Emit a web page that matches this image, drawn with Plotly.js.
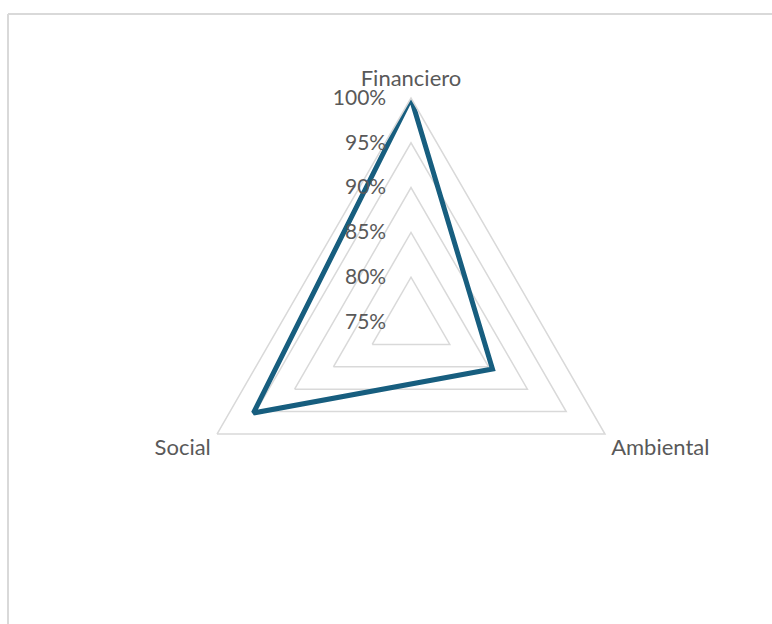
<!DOCTYPE html>
<html>
<head>
<meta charset="utf-8">
<script src="https://cdn.plot.ly/plotly-3.0.1.min.js"></script>
<style>
html, body { margin: 0; padding: 0; background: #ffffff; }
#chart { width: 772px; height: 624px; }
</style>
</head>
<body>
<div id="chart"></div>
<script>
// Data
const categories = ["Financiero", "Ambiental", "Social"];
const values = [1.00, 0.855, 0.953];
const radialTickValues = [0.75, 0.80, 0.85, 0.90, 0.95, 1.00];
const radialTickLabels = ["75%", "80%", "85%", "90%", "95%", "100%"];

const W = 772, H = 624;
const cx = 411, cy = 322, R = 224;

const trace = {
  type: "scatterpolar",
  mode: "lines",
  r: values.concat([values[0]]),
  theta: categories.concat([categories[0]]),
  line: { color: "#175E7F", width: 5 },
  hoverinfo: "skip",
  showlegend: false
};

const radialFont = { family: "Lato, 'Liberation Sans', sans-serif", size: 21, color: "#595959" };
const angularFont = { family: "Lato, 'Liberation Sans', sans-serif", size: 22, color: "#595959" };

const layout = {
  width: W,
  height: H,
  margin: { l: 0, r: 0, t: 0, b: 0 },
  paper_bgcolor: "#ffffff",
  plot_bgcolor: "#ffffff",
  showlegend: false,
  polar: {
    domain: {
      x: [(cx - R) / W, (cx + R) / W],
      y: [(H - cy - R) / H, (H - cy + R) / H]
    },
    bgcolor: "rgba(0,0,0,0)",
    gridshape: "linear",
    radialaxis: {
      range: [0.75, 1.0],
      tickvals: radialTickValues,
      ticktext: radialTickLabels,
      angle: 90,
      tickangle: 90,
      side: "counterclockwise",
      showline: false,
      ticks: "outside",
      ticklen: 17,
      tickcolor: "rgba(0,0,0,0)",
      gridcolor: "#d9d9d9",
      gridwidth: 1.5,
      tickfont: radialFont
    },
    angularaxis: {
      rotation: 90,
      direction: "clockwise",
      showgrid: false,
      showline: true,
      linecolor: "#d9d9d9",
      linewidth: 1.5,
      ticks: "outside",
      ticklen: 2,
      tickcolor: "rgba(0,0,0,0)",
      tickfont: angularFont
    }
  },
  shapes: [
    { type: "line", xref: "paper", yref: "paper", x0: 8 / W, x1: 1, y0: 1 - 14 / H, y1: 1 - 14 / H,
      line: { color: "#d9d9d9", width: 2 } },
    { type: "line", xref: "paper", yref: "paper", x0: 8 / W, x1: 8 / W, y0: 1 - 14 / H, y1: 0,
      line: { color: "#d9d9d9", width: 2 } }
  ]
};

Plotly.newPlot("chart", [trace], layout, { displayModeBar: false, staticPlot: true });
</script>
</body>
</html>
